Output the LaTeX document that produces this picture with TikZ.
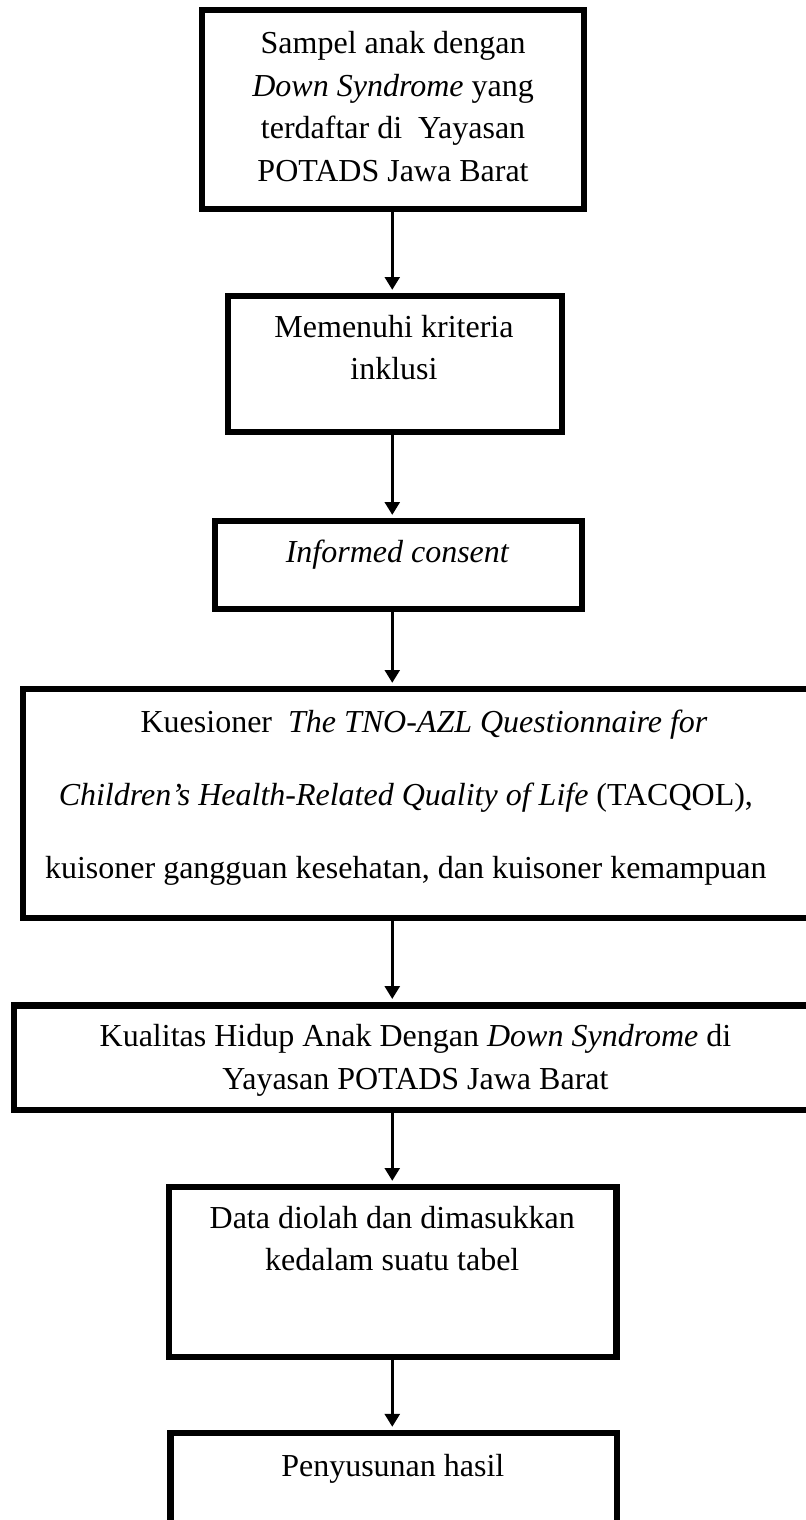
\documentclass[tikz,border=0pt]{standalone}
\usepackage{fontspec}
\setmainfont{Liberation Serif}
\usetikzlibrary{arrows.meta,positioning}

\begin{document}
\begin{tikzpicture}[->,>={Triangle[length=4.8pt,width=5.6pt]},shorten >=1.2pt,
                    line width=0.95pt,x=1pt,y=1pt]
	\tikzstyle{box}=[draw=black,line width=2.4pt,rectangle,inner sep=0pt]
	\tikzstyle{txt}=[align=center,inner sep=0pt,anchor=base,text=black,
	                 font=\fontsize{12}{16.05}\selectfont]

	\useasboundingbox (0,0) rectangle (302.25,-570);
	\clip (0,0) rectangle (302.25,-570);
	\coordinate (axis) at (147.1,0);

	% kotak-kotak alur
	\node[box,minimum width=143.3pt,minimum height=74.5pt]	(A) at (147.3,-41.06)	{};
	\node[box,minimum width=125.1pt,minimum height=50.85pt]	(B) at (148.1,-136.5)	{};
	\node[box,minimum width=137.5pt,minimum height=32.85pt]	(C) at (149.4,-211.9)	{};
	\node[box,minimum width=305.3pt,minimum height=85.7pt]	(D) at (161.2,-301.3)	{};
	\node[box,minimum width=308.5pt,minimum height=39.2pt]	(E) at (159.6,-396.6)	{};
	\node[box,minimum width=167.85pt,minimum height=63.6pt]	(F) at (147.2,-477)	{};
	\node[box,minimum width=167.4pt,minimum height=46.35pt]	(G) at (147.6,-560.6)	{};

	% isi teks (base = baris terakhir)
	\node[txt]	(a) at (147.4,-68.15)	{Sampel anak dengan\\\textit{Down Syndrome} yang\\terdaftar di\ \ Yayasan\\POTADS Jawa Barat};
	\node[txt]	(b) at (147.75,-142.45)	{Memenuhi kriteria\\inklusi};
	\node[txt]	(c) at (149.1,-211.1)	{\textit{Informed consent}};
	\node[txt,font=\fontsize{12}{27.4}\selectfont]	(d) at (152.2,-329.3)
		{\hspace*{13.65pt}Kuesioner\ \ \textit{The TNO-AZL Questionnaire for}\\
		 \textit{Children’s Health-Related Quality of Life} (TACQOL),\hspace*{6.6pt}\\
		 kuisoner gangguan kesehatan, dan kuisoner kemampuan};
	\node[txt]	(e) at (155.8,-408.65)	{Kualitas Hidup Anak Dengan \textit{Down Syndrome} di\\Yayasan POTADS Jawa Barat};
	\node[txt]	(f) at (147.1,-476.55)	{Data diolah dan dimasukkan\\kedalam suatu tabel};
	\node[txt]	(g) at (147.3,-553.5)	{Penyusunan hasil};

	\path	(A.south -| axis)	edge	(B.north -| axis)
		(B.south -| axis)	edge	(C.north -| axis)
		(C.south -| axis)	edge	(D.north -| axis)
		(D.south -| axis)	edge	(E.north -| axis)
		(E.south -| axis)	edge	(F.north -| axis)
		(F.south -| axis)	edge	(G.north -| axis);
\end{tikzpicture}
\end{document}
